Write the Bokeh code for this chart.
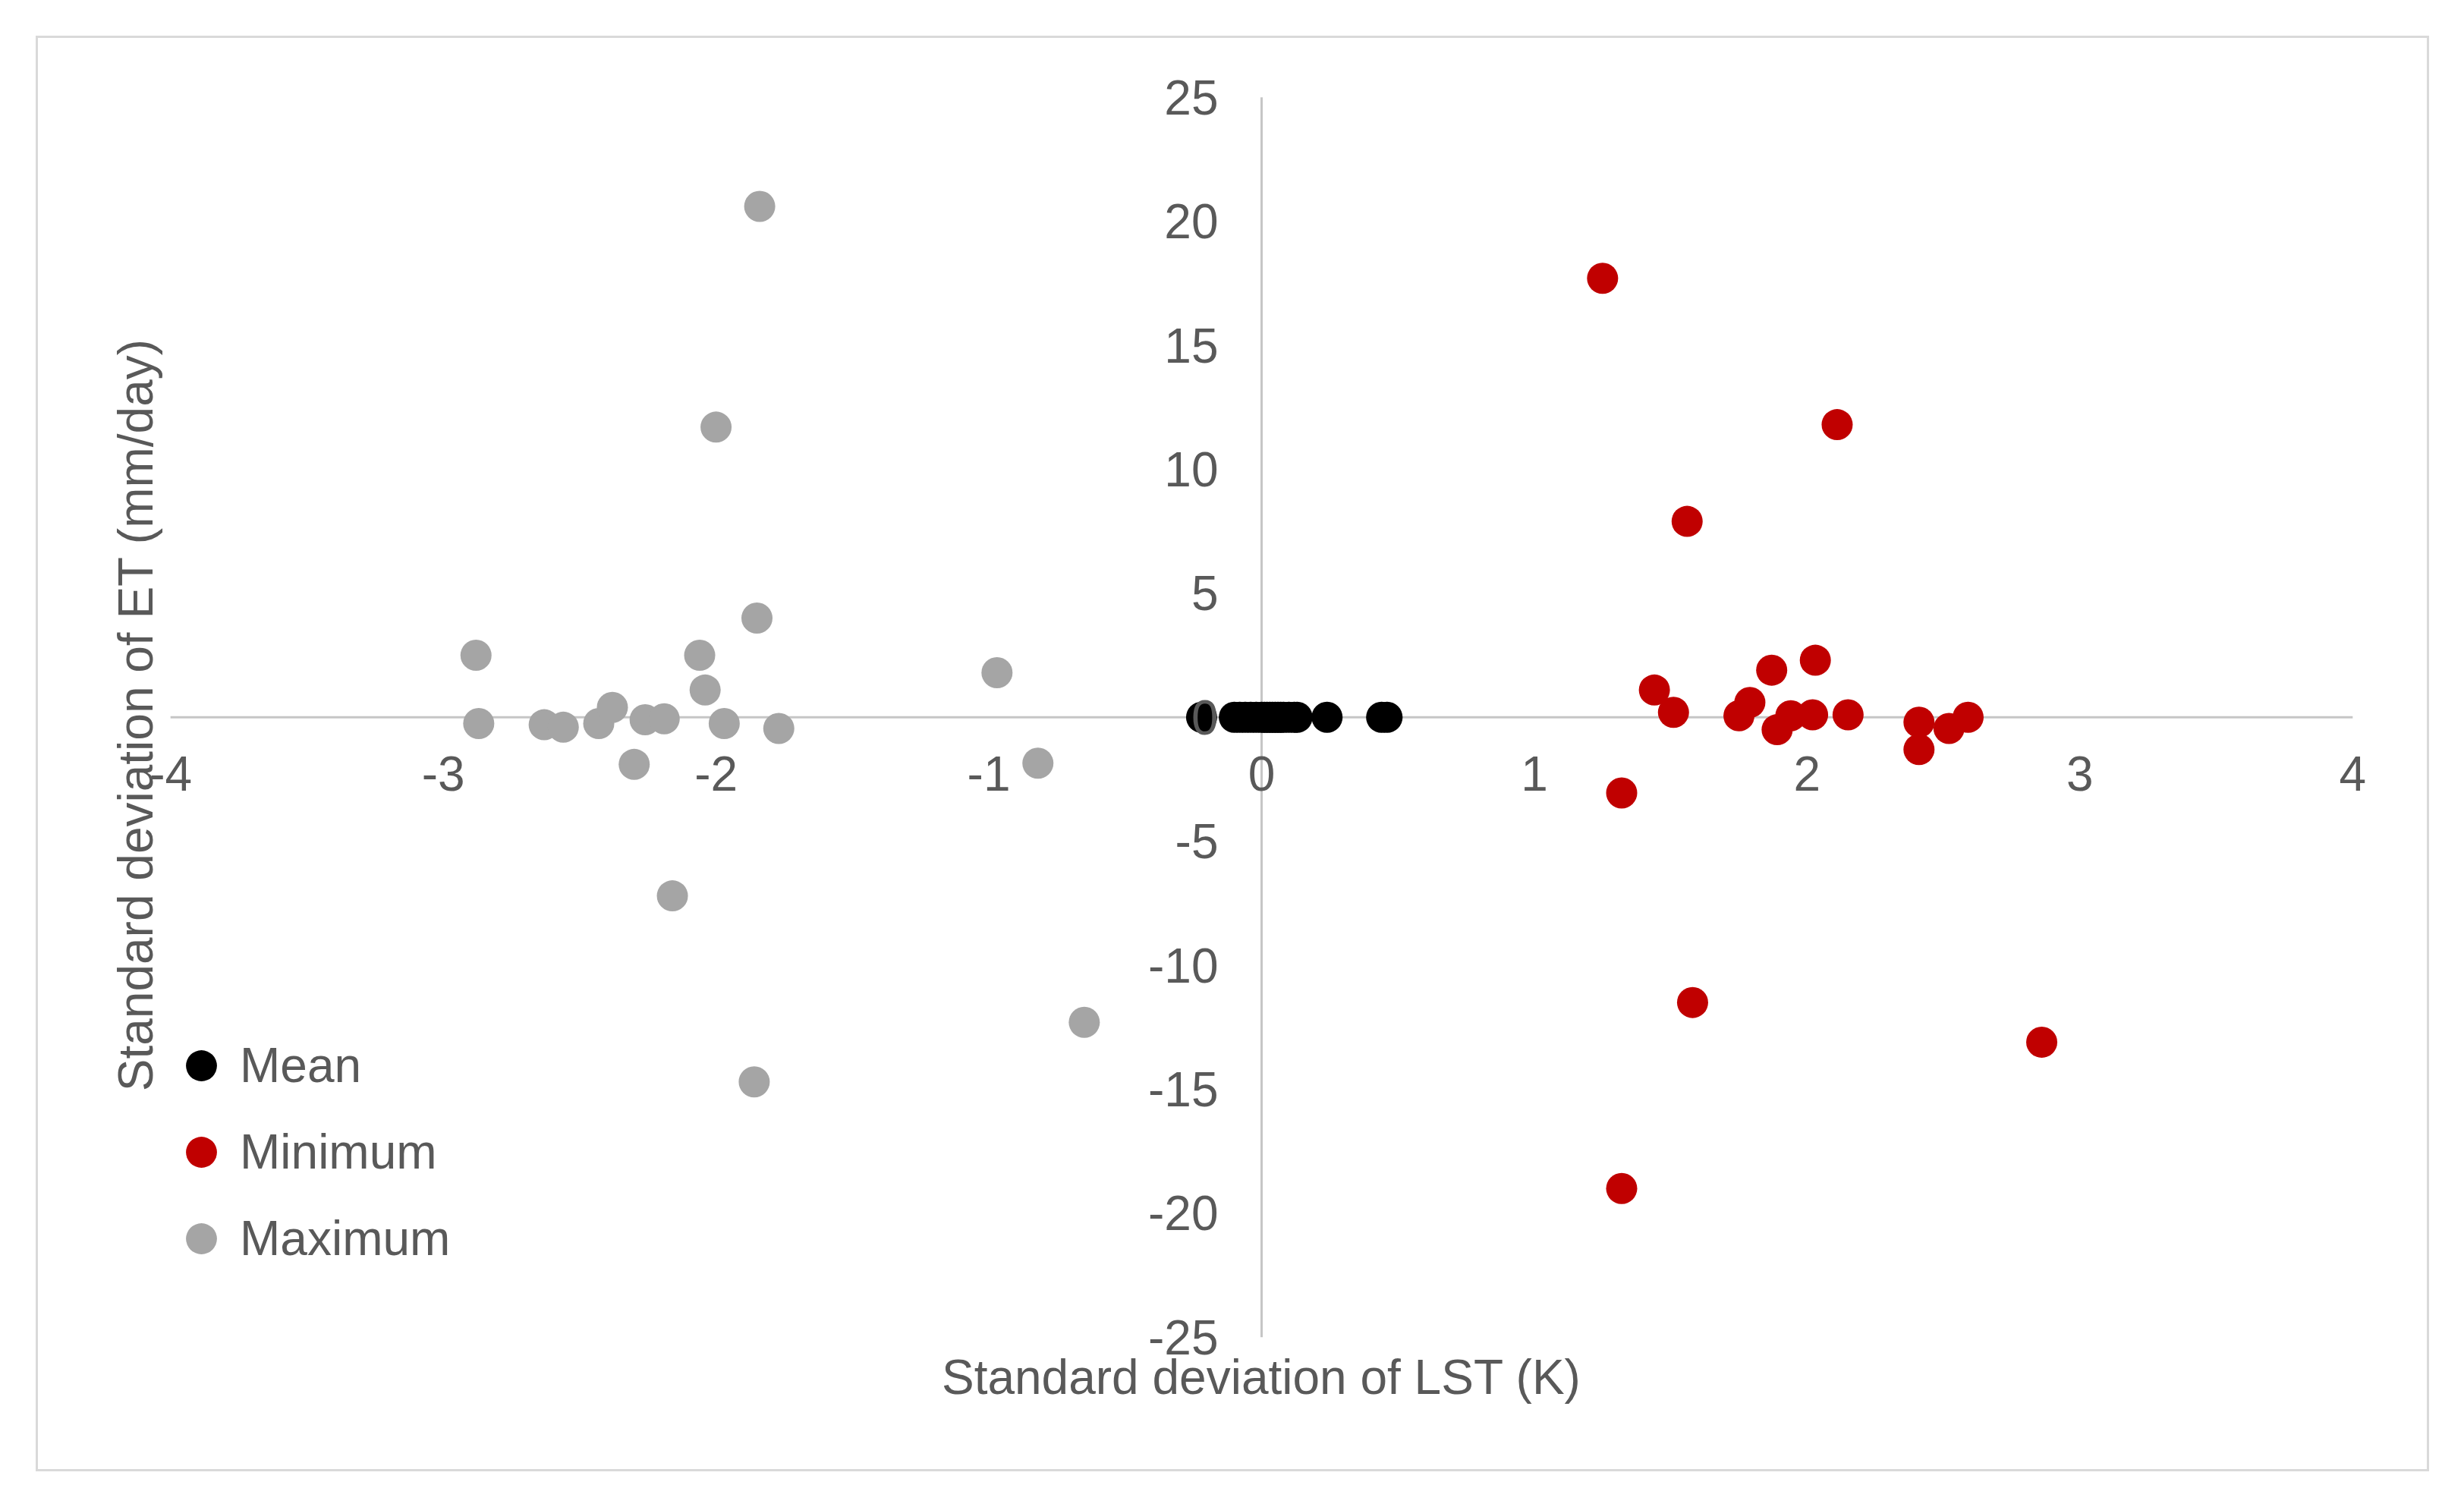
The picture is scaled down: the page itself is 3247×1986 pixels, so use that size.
from bokeh.plotting import figure
from bokeh.models import LinearAxis, FixedTicker, Range1d, Label
from bokeh.embed import file_html
from bokeh.resources import INLINE

# ---- data ----
x_ticks = [-4, -3, -2, -1, 0, 1, 2, 3, 4]
y_ticks = [-25, -20, -15, -10, -5, 0, 5, 10, 15, 20, 25]

mean_x = [-0.22, -0.10, -0.08, -0.06, -0.04, -0.02, 0.00, 0.01, 0.02, 0.03, 0.04,
          0.05, 0.06, 0.07, 0.08, 0.10, 0.12, 0.13, 0.24, 0.44, 0.46]
mean_y = [0.0, 0.0, 0.0, 0.0, 0.0, 0.0, 0.0, 0.0, 0.0, 0.0, 0.0,
          0.0, 0.0, 0.0, 0.0, 0.0, 0.0, 0.0, 0.0, 0.0, 0.0]

min_x = [1.25, 2.11, 1.56, 1.44, 1.51, 1.87, 2.03, 1.75, 1.79, 1.89, 1.94,
         2.02, 2.15, 2.41, 2.52, 2.59, 2.41, 1.32, 1.58, 2.86, 1.32]
min_y = [17.7, 11.8, 7.9, 1.1, 0.2, 1.9, 2.3, 0.06, 0.6, -0.5, 0.06,
         0.1, 0.1, -0.2, -0.45, 0.0, -1.3, -3.05, -11.5, -13.1, -19.0]

max_x = [-1.84, -2.00, -1.85, -2.88, -2.06, -2.04, -0.97, -2.87, -2.63, -2.56, -2.43,
         -2.38, -2.26, -2.19, -1.97, -1.77, -2.30, -0.82, -2.16, -1.86, -0.65]
max_y = [20.6, 11.7, 4.0, 2.5, 2.5, 1.1, 1.8, -0.25, -0.3, -0.4, -0.25,
         0.4, -0.1, -0.06, -0.25, -0.45, -1.9, -1.85, -7.2, -14.7, -12.3]

FONT = "Liberation Sans"
TXT = "#595959"
FS = "64px"
AXIS_COLOR = "#C6C6C6"

# ranges slightly wider than the tick span so the edge tick labels are not clipped
p = figure(width=3148, height=1886,
           x_range=Range1d(-4.07, 4.07), y_range=Range1d(-25.8, 26.0),
           output_backend="svg", toolbar_location=None,
           x_axis_location=None, y_axis_location=None,
           min_border_left=149, min_border_right=73,
           min_border_top=45, min_border_bottom=148,
           margin=(50, 0, 0, 50))
p.styles = {"outline": "3px solid #D9D9D9"}
for g in p.grid:
    g.visible = False
p.outline_line_color = None
p.background_fill_color = "white"
p.border_fill_color = "white"

# axis lines crossing at zero, spanning the tick range (drawn below the markers)
p.segment(x0=[x_ticks[0], 0], y0=[0, y_ticks[0]], x1=[x_ticks[-1], 0], y1=[0, y_ticks[-1]],
          line_color=AXIS_COLOR, line_width=3)

# title-only axes
xt = LinearAxis(ticker=FixedTicker(ticks=[]), axis_label="Standard deviation of LST (K)",
                axis_line_color=None, major_tick_line_color=None,
                minor_tick_line_color=None, major_label_text_font_size="0px",
                axis_label_standoff=-10, axis_label_text_font=FONT,
                axis_label_text_font_size=FS, axis_label_text_color=TXT,
                axis_label_text_font_style="normal")
p.add_layout(xt, "below")
yt = LinearAxis(ticker=FixedTicker(ticks=[]), axis_label="Standard deviation of ET (mm/day)",
                axis_line_color=None, major_tick_line_color=None,
                minor_tick_line_color=None, major_label_text_font_size="0px",
                axis_label_standoff=-15, axis_label_text_font=FONT,
                axis_label_text_font_size=FS, axis_label_text_color=TXT,
                axis_label_text_font_style="normal")
p.add_layout(yt, "left")

p.scatter(mean_x, mean_y, size=41, fill_color="#000000", line_color=None, legend_label="Mean")
p.scatter(min_x, min_y, size=41, fill_color="#C00000", line_color=None, legend_label="Minimum")
p.scatter(max_x, max_y, size=41, fill_color="#A5A5A5", line_color=None, legend_label="Maximum")

# tick labels on the crossing axes
for t in x_ticks:
    p.add_layout(Label(x=t, y=0, text=str(t), text_align="center", text_baseline="middle",
                       y_offset=-74, text_font=FONT, text_font_size=FS, text_color=TXT,
                       level="annotation"))
for t in y_ticks:
    p.add_layout(Label(x=0, y=t, text=str(t), text_align="right", text_baseline="middle",
                       x_offset=-57, text_font=FONT, text_font_size=FS, text_color=TXT,
                       level="annotation"))

lg = p.legend[0]
lg.location = (15, 105)
lg.border_line_color = None
lg.background_fill_alpha = 0
lg.padding = 0
lg.margin = 0
lg.glyph_width = 102
lg.glyph_height = 102
lg.label_height = 102
lg.spacing = 12
lg.label_standoff = 0
lg.label_text_font = FONT
lg.label_text_font_size = FS
lg.label_text_color = TXT

open("out.html", "w").write(file_html(p, INLINE))
